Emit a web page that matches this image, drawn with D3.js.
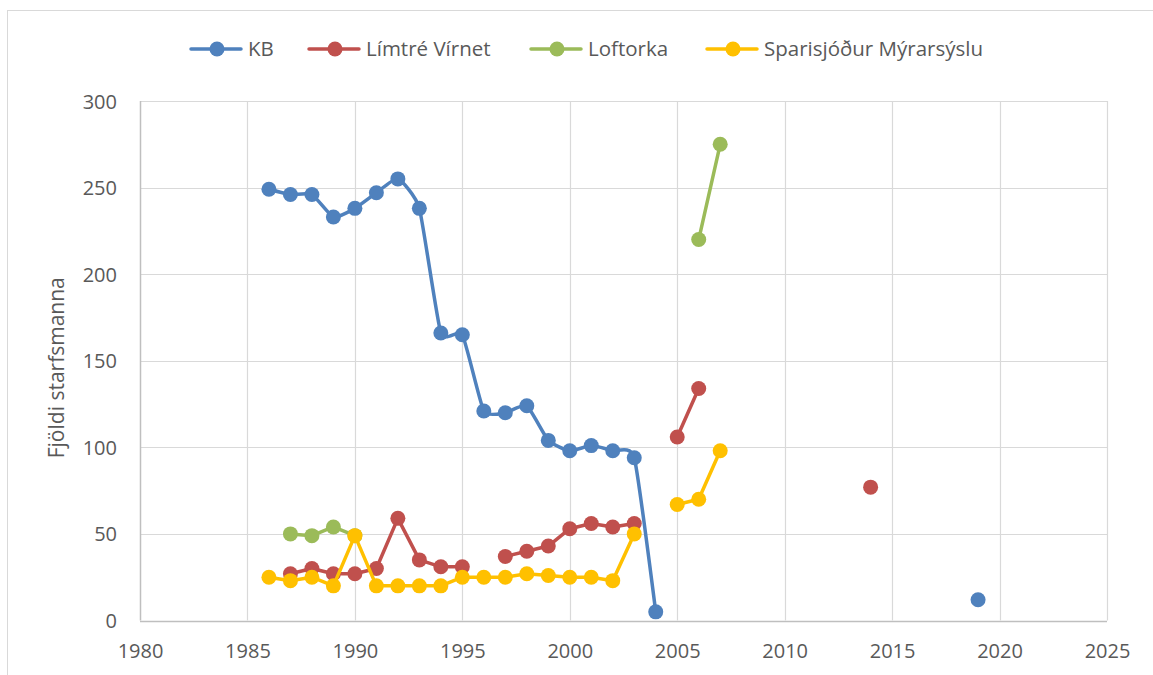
<!DOCTYPE html>
<html><head><meta charset="utf-8">
<script src="https://cdn.jsdelivr.net/npm/d3@7"></script>
<style>
html,body{margin:0;padding:0;background:#fff;}
svg{display:block;font-family:"Open Sans",Lato,sans-serif;}
</style></head>
<body>
<svg id="chart" width="1153" height="675"></svg>
<script>
const years = d3.range(1986, 2020);
const seriesNames = ["KB", "Límtré Vírnet", "Loftorka", "Sparisjóður Mýrarsýslu"];
const seriesColors = ["#4F81BD", "#C0504D", "#9BBB59", "#FFC000"];
const seriesSmooth = [true, false, false, false];
// values by year (years without data are absent)
const kbYears   = [1986,1987,1988,1989,1990,1991,1992,1993,1994,1995,1996,1997,1998,1999,2000,2001,2002,2003,2004,2019];
const kbValues  = [249,246,246,233,238,247,255,238,166,165,121,120,124,104,98,101,98,94,5,12];
const limYears  = [1987,1988,1989,1990,1991,1992,1993,1994,1995,1997,1998,1999,2000,2001,2002,2003,2005,2006,2014];
const limValues = [27,30,27,27,30,59,35,31,31,37,40,43,53,56,54,56,106,134,77];
const lofYears  = [1987,1988,1989,1990,2006,2007];
const lofValues = [50,49,54,49,220,275];
const spaYears  = [1986,1987,1988,1989,1990,1991,1992,1993,1994,1995,1996,1997,1998,1999,2000,2001,2002,2003,2005,2006,2007];
const spaValues = [25,23,25,20,49,20,20,20,20,25,25,25,27,26,25,25,23,50,67,70,98];
const xTicks = [1980,1985,1990,1995,2000,2005,2010,2015,2020,2025];
const yTicks = [0,50,100,150,200,250,300];
const yTitle = "Fjöldi starfsmanna";

const svg = d3.select("#chart");
const W = 1153, H = 675;
const m = {left:140, right:W-1107, top:101, bottom:H-620.5};

// outer frame
svg.append("rect").attr("x",7.5).attr("y",10.5).attr("width",W+10).attr("height",H+10)
  .attr("fill","none").attr("stroke","#d9d9d9").attr("stroke-width",1);

const x = d3.scaleLinear().domain([1980,2025]).range([m.left, W-m.right]);
const y = d3.scaleLinear().domain([0,300]).range([H-m.bottom, m.top]);

// gridlines
const g = svg.append("g");
g.selectAll(".hg").data(yTicks).join("line")
  .attr("x1",x(1980)).attr("x2",x(2025))
  .attr("y1",d=>Math.round(y(d))+0.5).attr("y2",d=>Math.round(y(d))+0.5)
  .attr("stroke",d=>d===0?"#bfbfbf":"#d9d9d9").attr("stroke-width",d=>d===0?1.5:1.2);
g.selectAll(".vg").data(xTicks).join("line")
  .attr("y1",y(0)).attr("y2",y(300))
  .attr("x1",d=>Math.round(x(d))+0.5).attr("x2",d=>Math.round(x(d))+0.5)
  .attr("stroke",d=>d===1980?"#bfbfbf":"#d9d9d9").attr("stroke-width",d=>d===1980?1.5:1.2);

// axes labels
const yAxis = d3.axisLeft(y).tickValues(yTicks).tickSize(0).tickPadding(0);
const ya = svg.append("g").attr("transform",`translate(117,0)`).call(yAxis);
ya.select(".domain").remove();
ya.selectAll("text").attr("font-size",20).attr("fill","#595959").attr("font-family","Open Sans,sans-serif").attr("dy","0.35em");

const xAxis = d3.axisBottom(x).tickValues(xTicks).tickFormat(d3.format("d")).tickSize(0).tickPadding(0);
const xa = svg.append("g").attr("transform",`translate(0,${y(0)+30})`).call(xAxis);
xa.select(".domain").remove();
xa.selectAll("text").attr("font-size",20).attr("fill","#595959").attr("font-family","Open Sans,sans-serif").attr("dy","0.35em");

svg.append("text").attr("transform",`translate(64,${(y(0)+y(300))/2 + 7}) rotate(-90)`)
  .attr("text-anchor","middle").attr("font-size",21).attr("fill","#595959").text(yTitle);

// series
const series = seriesNames.map((name,i)=>({name, color:seriesColors[i], smooth:seriesSmooth[i],
  yrs:[kbYears,limYears,lofYears,spaYears][i], vals:[kbValues,limValues,lofValues,spaValues][i]}));
series.forEach(s=>{
  const map = new Map(s.yrs.map((yr,i)=>[yr,s.vals[i]]));
  const pts = years.map(yr=>({yr, v: map.has(yr)?map.get(yr):null}));
  const line = d3.line().defined(d=>d.v!==null).x(d=>x(d.yr)).y(d=>y(d.v))
    .curve(s.smooth ? d3.curveCardinal.tension(0.5) : d3.curveLinear);
  const gs = svg.append("g");
  gs.append("path").datum(pts).attr("d",line).attr("fill","none")
    .attr("stroke",s.color).attr("stroke-width",3.5).attr("stroke-linejoin","round").attr("stroke-linecap","round");
  gs.selectAll("circle").data(pts.filter(d=>d.v!==null)).join("circle")
    .attr("cx",d=>x(d.yr)).attr("cy",d=>y(d.v)).attr("r",7.5).attr("fill",s.color);
});

// legend
const legX = [191, 309, 531, 707];
const lg = svg.append("g");
series.forEach((s,i)=>{
  const gx = legX[i];
  const it = lg.append("g").attr("transform",`translate(${gx},49)`);
  it.append("line").attr("x1",0).attr("x2",50).attr("y1",0).attr("y2",0)
    .attr("stroke",s.color).attr("stroke-width",3.5).attr("stroke-linecap","round");
  it.append("circle").attr("cx",26).attr("cy",0).attr("r",7.5).attr("fill",s.color);
  it.append("text").attr("x",57).attr("y",0).attr("dy","0.35em").attr("font-size",20.5)
    .attr("fill","#595959").text(s.name);
});
</script>
</body></html>
